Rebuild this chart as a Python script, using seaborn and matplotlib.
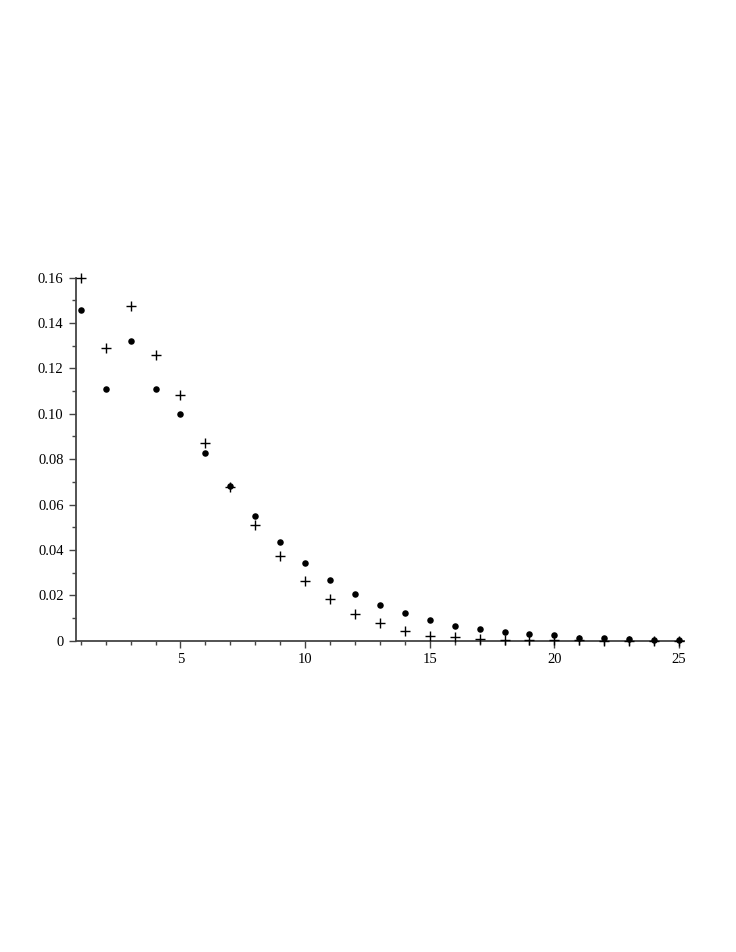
import numpy as np
import pandas as pd
import seaborn as sns
import matplotlib.pyplot as plt
from matplotlib.ticker import MultipleLocator, FuncFormatter

# values
n_values = list(range(1, 26))
dot_values = [0.1457, 0.1109, 0.1322, 0.1109, 0.1000, 0.0826, 0.0681, 0.0549,
              0.0435, 0.0341, 0.0266, 0.0206, 0.0156, 0.0121, 0.0091, 0.0066,
              0.0052, 0.0037, 0.0028, 0.0024, 0.0012, 0.0012, 0.0008, 0.0003,
              0.0002]
cross_values = [0.1600, 0.1288, 0.1476, 0.1257, 0.1084, 0.0870, 0.0678, 0.0510,
                0.0373, 0.0264, 0.0182, 0.0116, 0.0077, 0.0041, 0.0022, 0.0015,
                0.0007, 0.0003, 0.0002, 0.0001, 0.0001, 0.0000, 0.0000, 0.0000,
                0.0000]

df = pd.DataFrame({"n": n_values, "dots": dot_values, "crosses": cross_values})

sns.set_style("white")
plt.rcParams['font.family'] = ['Liberation Serif', 'DejaVu Serif']

fig = plt.figure(figsize=(7.36, 9.52), dpi=100)
ax = fig.add_axes([0.1033, 0.327, 0.826, 0.3814])

sns.scatterplot(data=df, x="n", y="dots", ax=ax, color="black", marker="o",
                s=22, linewidth=0, clip_on=False, zorder=3)
sns.scatterplot(data=df, x="n", y="crosses", ax=ax, color="black", marker="+",
                s=60, linewidth=1.0, clip_on=False, zorder=3)

ax.set_xlim(0.81, 25.2)
ax.set_ylim(0, 0.16)
ax.set_xlabel("")
ax.set_ylabel("")

ax.xaxis.set_major_locator(MultipleLocator(5))
ax.xaxis.set_minor_locator(MultipleLocator(1))
ax.yaxis.set_major_locator(MultipleLocator(0.02))
ax.yaxis.set_minor_locator(MultipleLocator(0.01))
ax.yaxis.set_major_formatter(FuncFormatter(lambda v, p: "0" if abs(v) < 1e-9 else f"{v:.2f}"))

for side in ["top", "right"]:
    ax.spines[side].set_visible(False)
for side in ["left", "bottom"]:
    ax.spines[side].set_color("#444444")
    ax.spines[side].set_linewidth(1.3)

ax.tick_params(which="major", direction="out", length=5, width=1, color="#444444",
               labelsize=10.5, pad=4, labelcolor="black")
ax.tick_params(which="minor", direction="out", length=3, width=1, color="#444444")
ax.tick_params(axis="both", which="both", bottom=True, left=True)

plt.savefig("out.png", dpi=100)
